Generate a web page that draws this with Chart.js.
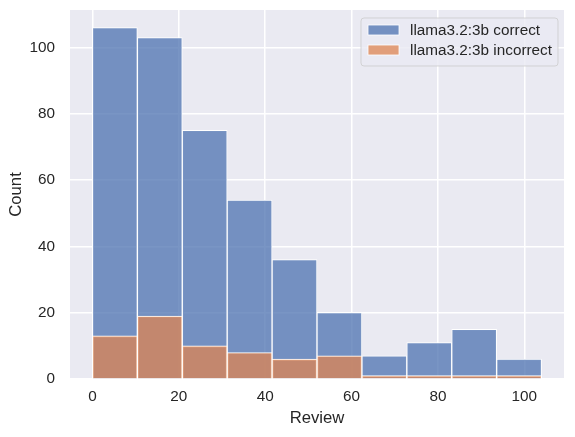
<!DOCTYPE html>
<html>
<head>
<meta charset="utf-8">
<script src="https://cdn.jsdelivr.net/npm/chart.js@4/dist/chart.umd.min.js"></script>
<style>
  html, body { margin: 0; padding: 0; background: #ffffff; }
  #wrap { width: 575px; height: 437px; }
</style>
</head>
<body>
<div id="wrap"><canvas id="hist"></canvas></div>
<script>
// Histogram data
const binEdges = [0, 10.4, 20.8, 31.2, 41.6, 52, 62.4, 72.8, 83.2, 93.6, 104];
const correctCounts = [106, 103, 75, 54, 36, 20, 7, 11, 15, 6];
const incorrectCounts = [13, 19, 10, 8, 6, 7, 1, 1, 1, 1];
const seriesLabels = ['llama3.2:3b correct', 'llama3.2:3b incorrect'];
const xTicks = [0, 20, 40, 60, 80, 100];
const yTicks = [0, 20, 40, 60, 80, 100];

const textColor = '#262626';
const fontFamily = '"Liberation Sans", Arial, sans-serif';
const blueFill = 'rgba(76, 114, 176, 0.75)';
const orangeFill = 'rgba(221, 132, 82, 0.75)';

// bar centres from the bin edges
function toPoints(counts) {
    return counts.map((c, i) => ({x: (binEdges[i] + binEdges[i + 1]) / 2, y: c}));
}

// axis limits like matplotlib's 5% margins
const xSpan = binEdges[binEdges.length - 1] - binEdges[0];
const xMin = binEdges[0] - xSpan * 0.05;
const xMax = binEdges[binEdges.length - 1] + xSpan * 0.05;
const yMax = Math.max(...correctCounts, ...incorrectCounts) * 1.05;

// grey plot background
const plotBackground = {
    id: 'plotBackground',
    beforeDraw(chart) {
        const {ctx, chartArea: a} = chart;
        ctx.save();
        ctx.fillStyle = '#eaeaf2';
        ctx.fillRect(a.left, a.top, a.right - a.left, a.bottom - a.top);
        ctx.restore();
    }
};

// legend drawn inside the plot, top right (like matplotlib "best")
const innerLegend = {
    id: 'innerLegend',
    afterDraw(chart) {
        const {ctx, chartArea: a} = chart;
        const fills = [blueFill, orangeFill];
        ctx.save();
        ctx.font = '15.3px ' + fontFamily;
        const textW = Math.max(...seriesLabels.map(s => ctx.measureText(s).width));
        const handleW = 31, handleH = 10, padL = 7, gap = 11, padR = 6;
        const w = padL + handleW + gap + textW + padR;
        const h = 48;
        const x0 = a.right - 6 - w;
        const y0 = a.top + 8;

        ctx.beginPath();
        ctx.roundRect(x0, y0, w, h, 3);
        ctx.fillStyle = 'rgba(234, 234, 242, 0.8)';
        ctx.fill();
        ctx.strokeStyle = 'rgba(204, 204, 204, 0.8)';
        ctx.lineWidth = 1;
        ctx.stroke();

        seriesLabels.forEach((label, i) => {
            const cy = y0 + 12 + i * 20;
            ctx.fillStyle = '#eaeaf2';
            ctx.fillRect(x0 + padL, cy - handleH / 2, handleW, handleH);
            ctx.fillStyle = fills[i];
            ctx.fillRect(x0 + padL, cy - handleH / 2, handleW, handleH);
            ctx.strokeStyle = '#ffffff';
            ctx.lineWidth = 0.8;
            ctx.strokeRect(x0 + padL, cy - handleH / 2, handleW, handleH);
            ctx.fillStyle = textColor;
            ctx.textBaseline = 'middle';
            ctx.textAlign = 'left';
            ctx.fillText(label, x0 + padL + handleW + gap, cy + 1);
        });
        ctx.restore();
    }
};

const ctx = document.getElementById('hist').getContext('2d');
const histChart = new Chart(ctx, {
    type: 'bar',
    data: {
        datasets: [
            {
                label: seriesLabels[0],
                data: toPoints(correctCounts),
                backgroundColor: blueFill,
                borderColor: '#ffffff',
                borderWidth: 1,
                order: 2            // drawn first, underneath
            },
            {
                label: seriesLabels[1],
                data: toPoints(incorrectCounts),
                backgroundColor: orangeFill,
                borderColor: '#ffffff',
                borderWidth: 1,
                order: 1            // drawn on top
            }
        ]
    },
    options: {
        responsive: true,
        maintainAspectRatio: false,
        animation: false,
        layout: { padding: { top: 10, right: 11, left: 0, bottom: 0 } },
        datasets: {
            bar: { grouped: false, barPercentage: 1.0, categoryPercentage: 1.0 }
        },
        scales: {
            x: {
                type: 'linear',
                offset: false,
                min: xMin,
                max: xMax,
                afterBuildTicks: (scale) => { scale.ticks = xTicks.map(v => ({value: v})); },
                afterFit: (scale) => { scale.height = 58; },
                grid: { color: '#ffffff', lineWidth: 1.5, drawTicks: false, offset: false },
                border: { display: false },
                ticks: {
                    padding: 9,
                    color: textColor,
                    font: { size: 15.3, family: fontFamily },
                    maxRotation: 0
                },
                title: {
                    display: true,
                    text: 'Review',
                    color: textColor,
                    font: { size: 16.7, family: fontFamily },
                    padding: { top: 0, bottom: 9 }
                }
            },
            y: {
                min: 0,
                max: yMax,
                afterBuildTicks: (scale) => { scale.ticks = yTicks.map(v => ({value: v})); },
                afterFit: (scale) => {
                    scale.width = 70;
                    scale.paddingTop = 0;      // no room kept for the top tick label
                    scale.paddingBottom = 0;
                },
                grid: { color: '#ffffff', lineWidth: 1.5, drawTicks: false },
                border: { display: false },
                ticks: {
                    padding: 15,
                    color: textColor,
                    font: { size: 15.3, family: fontFamily }
                },
                title: {
                    display: true,
                    text: 'Count',
                    color: textColor,
                    font: { size: 16.7, family: fontFamily },
                    padding: { top: 6, bottom: 0 }
                }
            }
        },
        plugins: {
            legend: { display: false },
            tooltip: { enabled: false }
        }
    },
    plugins: [plotBackground, innerLegend]
});
</script>
</body>
</html>
